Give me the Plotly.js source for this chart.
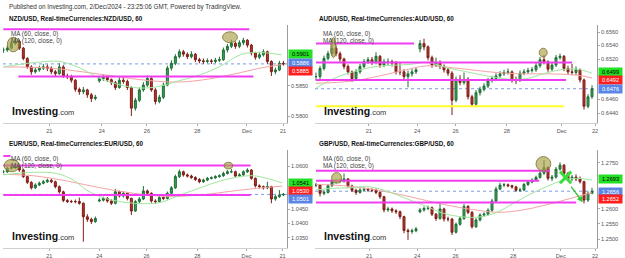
<!DOCTYPE html>
<html><head><meta charset="utf-8">
<script src="https://cdn.plot.ly/plotly-3.0.1.min.js"></script>
<style>html,body{margin:0;padding:0;background:#fff;}#chart{width:625px;height:258px;}</style>
</head><body><div id="chart"></div>
<script>
// ---------------- DATA (~4 hourly bars per candle) ----------------
const nzdClose = [0.5909,0.5912,0.5920,0.5923,0.5912,0.5895,0.5881,0.5873,0.5876,0.5879,
0.5881,0.5879,0.5873,0.5870,0.5881,0.5866,0.5865,0.5859,0.5844,0.5840,
0.5843,0.5835,0.5829,0.5831,0.5862,0.5864,0.5860,0.5855,0.5847,0.5859,
0.5857,0.5847,0.5813,0.5826,0.5843,0.5851,0.5862,0.5843,0.5824,0.5831,
0.5851,0.5879,0.5887,0.5898,0.5906,0.5902,0.5898,0.5902,0.5893,0.5891,
0.5890,0.5891,0.5890,0.5892,0.5893,0.5909,0.5915,0.5920,0.5915,0.5921,
0.5925,0.5917,0.5904,0.5897,0.5901,0.5906,0.5890,0.5873,0.5876,0.5887,0.5886];
const nzdHigh = [0.5913,0.5916,0.5924,0.5929,0.5926,0.5914,0.5897,0.5884,0.5880,0.5883,
0.5886,0.5885,0.5882,0.5876,0.5887,0.5884,0.5870,0.5868,0.5861,0.5847,
0.5848,0.5845,0.5838,0.5835,0.5866,0.5868,0.5867,0.5862,0.5858,0.5864,
0.5866,0.5860,0.5849,0.5830,0.5847,0.5856,0.5867,0.5864,0.5846,0.5835,
0.5855,0.5883,0.5892,0.5902,0.5910,0.5909,0.5905,0.5907,0.5904,0.5896,
0.5895,0.5895,0.5894,0.5896,0.5898,0.5913,0.5919,0.5926,0.5923,0.5925,
0.5929,0.5927,0.5919,0.5906,0.5906,0.5910,0.5908,0.5892,0.5880,0.5891,0.5891];
const nzdLow = [0.5904,0.5906,0.5910,0.5917,0.5909,0.5892,0.5878,0.5868,0.5870,0.5873,
0.5876,0.5874,0.5869,0.5866,0.5868,0.5863,0.5861,0.5855,0.5840,0.5835,
0.5836,0.5830,0.5823,0.5826,0.5855,0.5858,0.5856,0.5851,0.5843,0.5845,
0.5853,0.5843,0.5800,0.5809,0.5823,0.5840,0.5848,0.5840,0.5819,0.5821,
0.5828,0.5849,0.5875,0.5884,0.5895,0.5898,0.5894,0.5895,0.5889,0.5887,
0.5886,0.5887,0.5886,0.5887,0.5889,0.5891,0.5905,0.5912,0.5911,0.5912,
0.5917,0.5913,0.5900,0.5893,0.5894,0.5898,0.5886,0.5866,0.5869,0.5874,0.5883];
const nzdWeekendOpen = {bar: 24, open: 0.5858};
const nzdMA60x = [0,7.5,14.2,19.2,24.2,32.5,38.3,43.3,49.2,54.2,59.2,63.3,69.6];
const nzdMA60  = [0.5881,0.5888,0.5890,0.5879,0.5862,0.5847,0.5848,0.5857,0.5868,0.5882,0.5901,0.5905,0.5901];
const nzdMA120x = [0,11.7,24.2,34.2,42.5,49.2,57.5,64.2,69.6];
const nzdMA120  = [0.5881,0.5879,0.5869,0.5860,0.5856,0.5859,0.5869,0.5879,0.5885];

const audClose = [0.6494,0.6506,0.6521,0.6528,0.6536,0.6528,0.6520,0.6509,0.6501,0.6491,
0.6501,0.6509,0.6516,0.6519,0.6515,0.6524,0.6511,0.6516,0.6516,0.6514,
0.6501,0.6501,0.6494,0.6498,0.6501,0.6504,0.6543,0.6538,0.6522,0.6511,
0.6515,0.6509,0.6504,0.6499,0.6459,0.6490,0.6485,0.6490,0.6464,0.6453,
0.6470,0.6475,0.6480,0.6488,0.6491,0.6495,0.6498,0.6500,0.6501,0.6489,
0.6489,0.6499,0.6501,0.6503,0.6504,0.6510,0.6519,0.6516,0.6505,0.6511,
0.6522,0.6524,0.6506,0.6501,0.6500,0.6504,0.6489,0.6450,0.6464,0.6476];
const audHigh = [0.6500,0.6510,0.6525,0.6532,0.6550,0.6540,0.6531,0.6522,0.6512,0.6503,
0.6505,0.6513,0.6520,0.6523,0.6523,0.6530,0.6526,0.6520,0.6521,0.6519,
0.6517,0.6514,0.6505,0.6503,0.6506,0.6508,0.6548,0.6550,0.6540,0.6525,
0.6522,0.6518,0.6512,0.6507,0.6502,0.6494,0.6496,0.6500,0.6493,0.6467,
0.6474,0.6479,0.6484,0.6492,0.6495,0.6499,0.6502,0.6504,0.6506,0.6503,
0.6494,0.6503,0.6505,0.6507,0.6508,0.6514,0.6523,0.6526,0.6518,0.6515,
0.6526,0.6528,0.6526,0.6510,0.6513,0.6509,0.6506,0.6491,0.6468,0.6481];
const audLow = [0.6488,0.6490,0.6503,0.6518,0.6525,0.6524,0.6516,0.6505,0.6497,0.6486,
0.6488,0.6498,0.6506,0.6513,0.6511,0.6512,0.6507,0.6508,0.6511,0.6509,
0.6497,0.6496,0.6490,0.6478,0.6494,0.6498,0.6530,0.6533,0.6518,0.6507,
0.6508,0.6505,0.6500,0.6495,0.6437,0.6456,0.6481,0.6482,0.6460,0.6449,
0.6450,0.6466,0.6472,0.6477,0.6485,0.6488,0.6492,0.6495,0.6497,0.6485,
0.6483,0.6486,0.6496,0.6498,0.6500,0.6501,0.6507,0.6512,0.6501,0.6502,
0.6508,0.6519,0.6502,0.6497,0.6496,0.6496,0.6485,0.6445,0.6447,0.6461];
const audWeekendOpen = {bar: 26, open: 0.6535};
const audMA60x = [0,5.2,9.3,15.2,23.5,27.7,33.5,37.7,41.8,48.5,52.7,56.8,61,65.2,69];
const audMA60  = [0.6477,0.6493,0.6501,0.6509,0.6512,0.6515,0.6506,0.6501,0.6496,0.6490,0.6491,0.6498,0.6504,0.6505,0.6499];
const audMA120x = [0,8.5,15.2,21.8,27.7,34.3,40.2,45.2,51.8,58.5,65.2,69];
const audMA120  = [0.6484,0.6487,0.6494,0.6503,0.6510,0.6507,0.6503,0.6500,0.6498,0.6498,0.6496,0.6492];

const eurClose = [1.0580,1.0592,1.0594,1.0598,1.0586,1.0563,1.0543,1.0524,1.0534,1.0540,
1.0545,1.0550,1.0545,1.0528,1.0510,1.0480,1.0476,1.0476,1.0476,1.0470,
1.0423,1.0414,1.0406,1.0417,1.0481,1.0487,1.0478,1.0470,1.0510,1.0496,
1.0505,1.0487,1.0443,1.0476,1.0485,1.0513,1.0505,1.0478,1.0476,1.0490,
1.0487,1.0505,1.0524,1.0563,1.0580,1.0569,1.0565,1.0560,1.0553,1.0545,
1.0551,1.0557,1.0559,1.0563,1.0566,1.0574,1.0580,1.0580,1.0565,1.0569,
1.0580,1.0586,1.0557,1.0531,1.0528,1.0524,1.0528,1.0485,1.0493,1.0499,1.0501];
const eurHigh = [1.0586,1.0598,1.0602,1.0604,1.0602,1.0590,1.0566,1.0547,1.0540,1.0546,
1.0551,1.0556,1.0556,1.0549,1.0532,1.0514,1.0485,1.0482,1.0483,1.0490,
1.0473,1.0432,1.0420,1.0424,1.0488,1.0493,1.0492,1.0484,1.0520,1.0514,
1.0512,1.0509,1.0490,1.0481,1.0492,1.0530,1.0518,1.0508,1.0484,1.0496,
1.0495,1.0511,1.0530,1.0570,1.0588,1.0584,1.0574,1.0570,1.0564,1.0558,
1.0556,1.0562,1.0564,1.0568,1.0571,1.0580,1.0586,1.0590,1.0584,1.0575,
1.0585,1.0592,1.0589,1.0560,1.0536,1.0532,1.0545,1.0531,1.0499,1.0516,1.0506];
const eurLow = [1.0574,1.0576,1.0588,1.0590,1.0580,1.0558,1.0537,1.0518,1.0520,1.0530,
1.0536,1.0541,1.0540,1.0522,1.0504,1.0474,1.0471,1.0471,1.0470,1.0465,
1.0336,1.0405,1.0398,1.0402,1.0474,1.0476,1.0472,1.0464,1.0466,1.0490,
1.0490,1.0480,1.0429,1.0440,1.0470,1.0481,1.0499,1.0472,1.0468,1.0472,
1.0481,1.0483,1.0501,1.0520,1.0558,1.0563,1.0560,1.0555,1.0548,1.0540,
1.0541,1.0547,1.0553,1.0555,1.0559,1.0562,1.0570,1.0575,1.0560,1.0562,
1.0565,1.0576,1.0552,1.0525,1.0522,1.0518,1.0519,1.0470,1.0479,1.0489,1.0495];
const eurWeekendOpen = {bar: 24, open: 1.0478};
const eurMA60x = [0,7.5,13.3,17.5,20.8,24.2,28.3,34.2,39.2,44.2,49.2,54.2,59.2,62.5,65.8,69.7];
const eurMA60  = [1.0569,1.0578,1.0574,1.0551,1.0516,1.0493,1.0478,1.0469,1.0473,1.0499,1.0524,1.0548,1.0563,1.0566,1.0557,1.0541];
const eurMA120x = [0,7.5,15.8,24.2,32.5,40.8,49.2,57.5,63.3,69.7];
const eurMA120  = [1.0571,1.0566,1.0548,1.0524,1.0505,1.0494,1.0499,1.0513,1.0522,1.0530];

const gbpClose = [1.2677,1.2650,1.2653,1.2675,1.2688,1.2690,1.2690,1.2697,1.2674,1.2660,
1.2653,1.2661,1.2663,1.2661,1.2660,1.2653,1.2639,1.2596,1.2599,1.2593,
1.2590,1.2574,1.2529,1.2525,1.2528,1.2534,1.2596,1.2601,1.2603,1.2582,
1.2568,1.2599,1.2566,1.2566,1.2523,1.2549,1.2568,1.2607,1.2588,1.2541,
1.2563,1.2579,1.2582,1.2595,1.2625,1.2664,1.2677,1.2678,1.2675,1.2671,
1.2660,1.2661,1.2679,1.2687,1.2693,1.2702,1.2716,1.2734,1.2699,1.2703,
1.2729,1.2742,1.2715,1.2697,1.2703,1.2697,1.2688,1.2628,1.2650,1.2657];
const gbpHigh = [1.2684,1.2680,1.2660,1.2680,1.2694,1.2697,1.2698,1.2715,1.2700,1.2678,
1.2665,1.2667,1.2669,1.2668,1.2666,1.2666,1.2657,1.2642,1.2606,1.2604,
1.2598,1.2594,1.2577,1.2535,1.2535,1.2540,1.2602,1.2607,1.2610,1.2607,
1.2586,1.2616,1.2603,1.2574,1.2570,1.2555,1.2574,1.2615,1.2612,1.2592,
1.2569,1.2585,1.2588,1.2601,1.2632,1.2672,1.2685,1.2684,1.2682,1.2678,
1.2675,1.2668,1.2684,1.2693,1.2699,1.2708,1.2722,1.2759,1.2738,1.2710,
1.2736,1.2751,1.2746,1.2720,1.2710,1.2712,1.2705,1.2691,1.2656,1.2668];
const gbpLow = [1.2670,1.2640,1.2644,1.2650,1.2671,1.2683,1.2683,1.2685,1.2668,1.2654,
1.2645,1.2649,1.2657,1.2655,1.2654,1.2647,1.2632,1.2588,1.2590,1.2586,
1.2583,1.2566,1.2520,1.2498,1.2518,1.2523,1.2585,1.2590,1.2595,1.2576,
1.2560,1.2564,1.2558,1.2558,1.2514,1.2519,1.2544,1.2563,1.2582,1.2535,
1.2537,1.2558,1.2574,1.2578,1.2590,1.2620,1.2660,1.2671,1.2670,1.2665,
1.2655,1.2655,1.2657,1.2674,1.2683,1.2689,1.2698,1.2710,1.2692,1.2690,
1.2698,1.2724,1.2708,1.2690,1.2690,1.2690,1.2682,1.2617,1.2622,1.2647];
const gbpWeekendOpen = {bar: 26, open: 1.2590};
const gbpMA60x = [0,3.5,8.5,12.7,16.8,20.2,23.5,27.7,31.8,36.8,41,45.2,49.3,53.5,57.7,61.8,65.2,69];
const gbpMA60  = [1.2661,1.2666,1.2668,1.2672,1.2661,1.2645,1.2628,1.2607,1.2585,1.2573,1.2573,1.2588,1.2617,1.2647,1.2672,1.2693,1.2699,1.2693];
const gbpMA120x = [0,6.8,15.2,23.5,31.8,40.2,46,51.8,56.8,61.8,66,69];
const gbpMA120  = [1.2679,1.2675,1.2661,1.2639,1.2614,1.2595,1.2588,1.2596,1.2610,1.2627,1.2642,1.2652];

// right-axis last-value labels: [value, kind]
const nzdLabels = [[0.5901,'ma60'],[0.5886,'last'],[0.5885,'ma120']];
const audLabels = [[0.6499,'ma60'],[0.6492,'ma120'],[0.6476,'last']];
const eurLabels = [[1.0541,'ma60'],[1.0530,'ma120'],[1.0501,'last']];
const gbpLabels = [[1.2693,'ma60'],[1.2656,'last'],[1.2652,'ma120']];

// drawn support/resistance levels: [price, fromBar, toBar, colour]
const nzdLevels = [[0.5943,0,61.5,'m'],[0.5865,3.75,62.5,'m']];
const audLevels = [[0.6543,0,24.5,'m'],[0.6515,0,64,'m'],[0.6489,0,62.5,'m'],[0.6450,0,62,'y']];
const eurLevels = [[1.0635,0,1.8,'m'],[1.0602,0,61.8,'m'],[1.0499,0,61.8,'m']];
const gbpLevels = [[1.2724,0,58.5,'m'],[1.2691,0,55.8,'m'],[1.2620,0,65,'m']];

// highlight ellipses: [barFrom, barTo, priceLow, priceHigh]
const nzdMarks = [[1,4,0.5906,0.5930],[54.8,58.5,0.5921,0.5939]];
const audMarks = [[3.7,5,0.6522,0.6552],[55.8,57.8,0.6523,0.6536]];
const eurMarks = [[0.2,4,1.0580,1.0623],[55.2,57.3,1.0590,1.0613]];
const gbpMarks = [[3.9,6.4,1.2683,1.2718],[55,58.7,1.2723,1.2770]];

// tick labels (price ticks hidden by the value boxes in the picture are left out)
const nzdTickPos = [11.5,24.6,35.9,48.5,60.9,69.9], nzdTickText = ['21','24','26','28','Dec','21'];
const audTickPos = [13.2,25.3,34.9,47.7,61.4,69.75], audTickText = ['21','24','26','28','Dec','22'];
const eurTickPos = [11.5,24,35.8,48.5,60.8,69.8], eurTickText = ['21','24','26','28','Dec','21'];
const gbpTickPos = [13.3,25.3,34.9,49.3,61.2,69.75], gbpTickText = ['21','24','26','28','Dec','22'];
const nzdYTicks = [0.5800,0.5850];
const audYTicks = [0.6440,0.6460,0.6520,0.6540,0.6560];
const eurYTicks = [1.0350,1.0400,1.0450,1.0600];
const gbpYTicks = [1.2500,1.2550,1.2600,1.2750];

// GBP drawing: cross at [bar, price] and arrow [fromBar, fromPrice, toBar, toPrice]
const gbpCross = [62.4, 1.2702];
const gbpArrow = [63.5, 1.2677, 66.7, 1.2621];

// ---------------- LAYOUT ----------------
const W = 625, H = 258;
const px = x => x / W, py = y => 1 - y / H;
const FONT = 'Arial, "Liberation Sans", sans-serif';

const panels = [
  {sym:'NZD/USD', close:nzdClose, high:nzdHigh, low:nzdLow, wk:nzdWeekendOpen,
   m60x:nzdMA60x, m60:nzdMA60, m120x:nzdMA120x, m120:nzdMA120, labels:nzdLabels, levels:nzdLevels,
   marks:nzdMarks, tp:nzdTickPos, tt:nzdTickText, yt:nzdYTicks,
   box:[3,25,287,123], yr:[0.578845,0.59502], xr:[-0.08,70.9], shifts:[0.4,1.2,-6.2]},
  {sym:'AUD/USD', close:audClose, high:audHigh, low:audLow, wk:audWeekendOpen,
   m60x:audMA60x, m60:audMA60, m120x:audMA120x, m120:audMA120, labels:audLabels, levels:audLevels,
   marks:audMarks, tp:audTickPos, tt:audTickText, yt:audYTicks,
   box:[315,25,597,123], yr:[0.64252,0.65704], xr:[-0.25,70.25], shifts:[1.2,-2.1,-0.3]},
  {sym:'EUR/USD', close:eurClose, high:eurHigh, low:eurLow, wk:eurWeekendOpen,
   m60x:eurMA60x, m60:eurMA60, m120x:eurMA120x, m120:eurMA120, labels:eurLabels, levels:eurLevels,
   marks:eurMarks, tp:eurTickPos, tt:eurTickText, yt:eurYTicks,
   box:[3,150,287,248], yr:[1.03141,1.06558], xr:[-0.08,70.9], shifts:[-0.2,-5.1,-4.9]},
  {sym:'GBP/USD', close:gbpClose, high:gbpHigh, low:gbpLow, wk:gbpWeekendOpen,
   m60x:gbpMA60x, m60:gbpMA60, m120x:gbpMA120x, m120:gbpMA120, labels:gbpLabels, levels:gbpLevels,
   marks:gbpMarks, tp:gbpTickPos, tt:gbpTickText, yt:gbpYTicks,
   box:[315,150,597,248], yr:[1.24716,1.27915], xr:[-0.25,70.25], shifts:[1.3,0,-6.2]}
];

const traces = [], shapes = [], annotations = [];
const layout = {
  width: W, height: H, margin: {l:0, r:0, t:0, b:0},
  paper_bgcolor: '#fff', plot_bgcolor: '#fff', showlegend: false,
  font: {family: FONT, size: 6, color: '#444'}
};
const labelColors = {ma60:['#22e022','#000'], last:['#5b86e5','#fff'], ma120:['#ff1f1f','#fff']};

panels.forEach((p, i) => {
  const n = i + 1, xs = n === 1 ? 'x' : 'x' + n, ys = n === 1 ? 'y' : 'y' + n;
  const [x0, y0, x1, y1] = p.box;
  const bars = p.close.map((_, k) => k);
  const open = p.close.map((c, k) => k === 0 ? c : (k === p.wk.bar ? p.wk.open : p.close[k - 1]));

  traces.push({type:'scatter', mode:'lines', x:p.m120x, y:p.m120, xaxis:xs, yaxis:ys,
    line:{color:'#f5a3a3', width:1, shape:'spline', smoothing:1}, hoverinfo:'skip'});
  traces.push({type:'scatter', mode:'lines', x:p.m60x, y:p.m60, xaxis:xs, yaxis:ys,
    line:{color:'#9fe79f', width:1, shape:'spline', smoothing:1}, hoverinfo:'skip'});
  traces.push({type:'candlestick', x:bars, open:open, high:p.high, low:p.low, close:p.close,
    xaxis:xs, yaxis:ys, whiskerwidth:0, hoverinfo:'skip',
    increasing:{line:{color:'#1e6e35', width:1}, fillcolor:'#37a456'},
    decreasing:{line:{color:'#7d1d17', width:1}, fillcolor:'#b9362b'}});

  const xName = n === 1 ? 'xaxis' : 'xaxis' + n, yName = n === 1 ? 'yaxis' : 'yaxis' + n;
  layout[xName] = {domain:[px(x0), px(x1)], range:p.xr, anchor:ys, showgrid:false, zeroline:false,
    showline:true, linecolor:'#d0d0d0', linewidth:1, ticks:'outside', ticklen:2, tickcolor:'#aaa',
    tickmode:'array', tickvals:p.tp, ticktext:p.tt, tickfont:{size:5.6, color:'#555'},
    rangeslider:{visible:false}, fixedrange:true};
  layout[yName] = {domain:[py(y1), py(y0)], range:p.yr, anchor:xs, side:'right', showgrid:false,
    zeroline:false, showline:true, linecolor:'#9a9a9a', linewidth:1, ticks:'outside', ticklen:2,
    tickcolor:'#aaa', tickmode:'array', tickvals:p.yt, tickformat:'.4f',
    tickfont:{size:5.6, color:'#555'}, fixedrange:true};

  // current price dotted line
  const last = p.close[p.close.length - 1];
  shapes.push({type:'line', xref:xs, yref:ys, x0:p.xr[0], x1:p.xr[1], y0:last, y1:last,
    line:{color:'#7c9ce8', width:1, dash:'dot'}, layer:'below'});
  // levels
  p.levels.forEach(l => shapes.push({type:'line', xref:xs, yref:ys, x0:l[1], x1:l[2], y0:l[0], y1:l[0],
    line:{color: l[3] === 'y' ? '#ffff2a' : '#f23cf2', width:2}, layer:'above'}));
  // ellipses
  p.marks.forEach(m => shapes.push({type:'circle', xref:xs, yref:ys, x0:m[0], x1:m[1], y0:m[2], y1:m[3],
    fillcolor:'rgba(170,160,70,0.65)', line:{color:'rgba(120,112,40,0.8)', width:1}, layer:'above'}));

  // title + legend + logo
  const tx = x0 + (n % 2 === 1 ? 4 : 2);
  annotations.push({xref:'paper', yref:'paper', x:px(tx), y:py(y0 - 6), xanchor:'left', yanchor:'middle',
    text:'<b>' + p.sym + ', Real-timeCurrencies:' + p.sym + ', 60</b>', showarrow:false,
    font:{size:6.3, color:'#111', family:FONT}});
  annotations.push({xref:'paper', yref:'paper', x:px(x0 + 6), y:py(y0 + 8.5), xanchor:'left', yanchor:'middle',
    text:'MA (60, close, 0)', showarrow:false, font:{size:6.3, color:'#444', family:FONT}});
  annotations.push({xref:'paper', yref:'paper', x:px(x0 + 6), y:py(y0 + 16), xanchor:'left', yanchor:'middle',
    text:'MA (120, close, 0)', showarrow:false, font:{size:6.3, color:'#444', family:FONT}});
  annotations.push({xref:'paper', yref:'paper', x:px(x0 + 7), y:py(y1 - 12), xanchor:'left', yanchor:'middle',
    text:'<b>Investing</b><span style="font-size:7.5px;color:#333">.com</span>', showarrow:false,
    font:{size:10.5, color:'#111', family:FONT}});

  // right-axis value boxes
  p.labels.forEach((lb, j) => {
    const c = labelColors[lb[1]];
    annotations.push({xref:'paper', yref:ys, x:px(x1 + 0.5), y:lb[0], yshift:p.shifts[j],
      xanchor:'left', yanchor:'middle', text:lb[0].toFixed(4), showarrow:false,
      bgcolor:c[0], width:23, height:7.6, borderpad:0, font:{size:5.6, color:c[1], family:FONT}});
  });
});

// GBP cross and arrow
const cx = gbpCross[0], cy = gbpCross[1];
shapes.push({type:'line', xref:'x4', yref:'y4', x0:cx - 1.4, x1:cx + 1.4, y0:cy + 0.0019, y1:cy - 0.0019,
  line:{color:'#3ddc3d', width:3}, layer:'above'});
shapes.push({type:'line', xref:'x4', yref:'y4', x0:cx - 1.4, x1:cx + 1.4, y0:cy - 0.0019, y1:cy + 0.0019,
  line:{color:'#3ddc3d', width:3}, layer:'above'});
annotations.push({xref:'x4', yref:'y4', axref:'x4', ayref:'y4', x:gbpArrow[2], y:gbpArrow[3],
  ax:gbpArrow[0], ay:gbpArrow[1], text:'', showarrow:true, arrowhead:2, arrowsize:0.9,
  arrowwidth:1.3, arrowcolor:'#2fc82f'});

// header
annotations.push({xref:'paper', yref:'paper', x:px(7), y:py(7), xanchor:'left', yanchor:'middle',
  text:'Published on Investing.com, 2/Dec/2024 - 23:25:06 GMT, Powered by TradingView.',
  showarrow:false, font:{size:6.3, color:'#333', family:FONT}});

layout.shapes = shapes;
layout.annotations = annotations;
Plotly.newPlot('chart', traces, layout, {staticPlot:true, displayModeBar:false});
</script>
</body></html>
